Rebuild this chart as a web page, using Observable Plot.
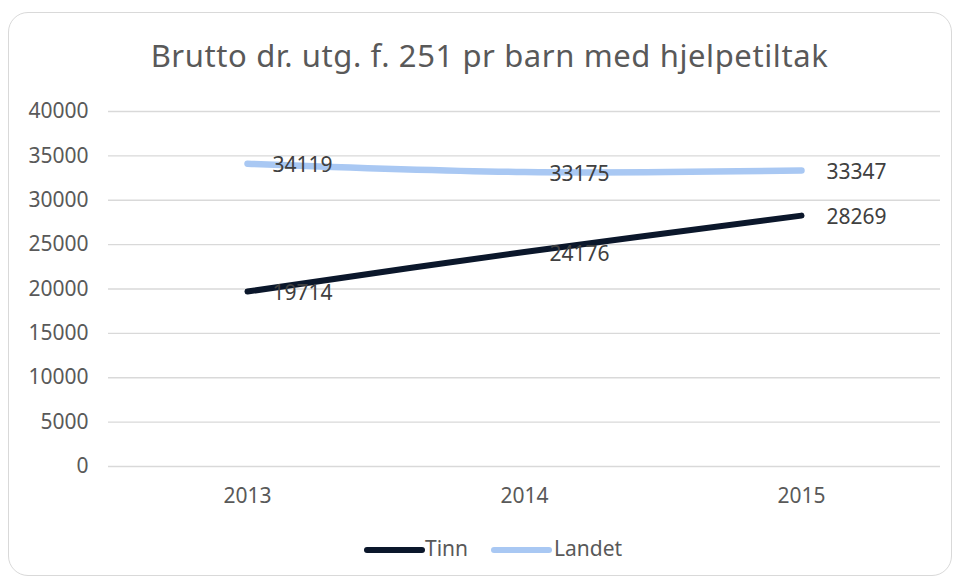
<!DOCTYPE html>
<html>
<head>
<meta charset="utf-8">
<script src="https://cdn.jsdelivr.net/npm/d3@7"></script>
<script src="https://cdn.jsdelivr.net/npm/@observablehq/plot@0.6"></script>
<style>
  html, body { margin: 0; padding: 0; background: #fff; }
  body { width: 957px; height: 581px; position: relative; overflow: hidden; font-family: "Noto Sans", sans-serif; }
  #frame { position: absolute; left: 8px; top: 12px; width: 944px; height: 564px; border: 1.5px solid #d9d9d9; border-radius: 20px; box-sizing: border-box; }
  #title { position: absolute; left: 0; top: 40px; width: 979px; text-align: center; font-size: 31px; line-height: 31px; letter-spacing: 0.6px; color: #595959; white-space: nowrap; }
  #chart { position: absolute; left: 0; top: 90px; }
  #legend { position: absolute; left: 0; top: 539px; width: 957px; height: 24px; font-size: 21px; line-height: 21px; color: #595959; }
  .item { position: absolute; top: -1px; }
</style>
</head>
<body>
<div id="frame"></div>
<div id="title"></div>
<div id="chart"></div>
<div id="legend"></div>
<script>
const titleText = "Brutto dr. utg. f. 251 pr barn med hjelpetiltak";
const years = ["2013", "2014", "2015"];
const tinn = [19714, 24176, 28269];
const landet = [34119, 33175, 33347];
const yTicks = [0, 5000, 10000, 15000, 20000, 25000, 30000, 35000, 40000];
const seriesNames = ["Tinn", "Landet"];
const seriesColors = ["#0b172b", "#a9c8f3"];

document.getElementById("title").textContent = titleText;

const rows = [];
years.forEach((yr, i) => {
  rows.push({year: yr, value: tinn[i], series: "Tinn"});
  rows.push({year: yr, value: landet[i], series: "Landet"});
});

const chart = Plot.plot({
  width: 957,
  height: 430,
  marginTop: 21,
  marginBottom: 54,
  marginLeft: 108,
  marginRight: 17,
  style: {fontFamily: "Noto Sans, sans-serif", fontSize: "21px", background: "transparent", overflow: "visible"},
  x: {type: "point", domain: years, padding: 0.5, label: null, tickSize: 0, tickPadding: 22},
  y: {domain: [0, 40000], ticks: yTicks, label: null, tickSize: 0, tickPadding: 20, tickFormat: d => String(d)},
  color: {domain: seriesNames, range: seriesColors},
  marks: [
    Plot.ruleY(yTicks, {stroke: "#d9d9d9", strokeWidth: 1.3}),
    Plot.axisX({tickSize: 0, tickPadding: 22, fill: "#595959", fontSize: 21}),
    Plot.axisY({ticks: yTicks, tickSize: 0, tickPadding: 20, fill: "#595959", fontSize: 21, tickFormat: d => String(d)}),
    Plot.line(rows.filter(d => d.series === "Landet"), {x: "year", y: "value", stroke: seriesColors[1], strokeWidth: 6.5, curve: "catmull-rom", strokeLinecap: "round"}),
    Plot.line(rows.filter(d => d.series === "Tinn"), {x: "year", y: "value", stroke: seriesColors[0], strokeWidth: 6, curve: "catmull-rom", strokeLinecap: "round"}),
    Plot.text(rows, {x: "year", y: "value", text: d => String(d.value), textAnchor: "start", dx: 25, dy: 2, fill: "#404040", fontSize: 21})
  ]
});
document.getElementById("chart").appendChild(chart);

const legend = document.getElementById("legend");
const legendPos = [{line: 367, text: 425}, {line: 494, text: 554}];
seriesNames.forEach((name, i) => {
  const sw = document.createElementNS("http://www.w3.org/2000/svg", "svg");
  sw.setAttribute("width", 62);
  sw.setAttribute("height", 24);
  sw.style.position = "absolute";
  sw.style.left = (legendPos[i].line - 3) + "px";
  sw.style.top = "-1px";
  const ln = document.createElementNS("http://www.w3.org/2000/svg", "line");
  ln.setAttribute("x1", 3); ln.setAttribute("x2", 58);
  ln.setAttribute("y1", 12); ln.setAttribute("y2", 12);
  ln.setAttribute("stroke", seriesColors[i]);
  ln.setAttribute("stroke-width", 6);
  ln.setAttribute("stroke-linecap", "round");
  sw.appendChild(ln);
  legend.appendChild(sw);
  const sp = document.createElement("span");
  sp.className = "item";
  sp.style.left = legendPos[i].text + "px";
  sp.textContent = name;
  legend.appendChild(sp);
});
</script>
</body>
</html>
